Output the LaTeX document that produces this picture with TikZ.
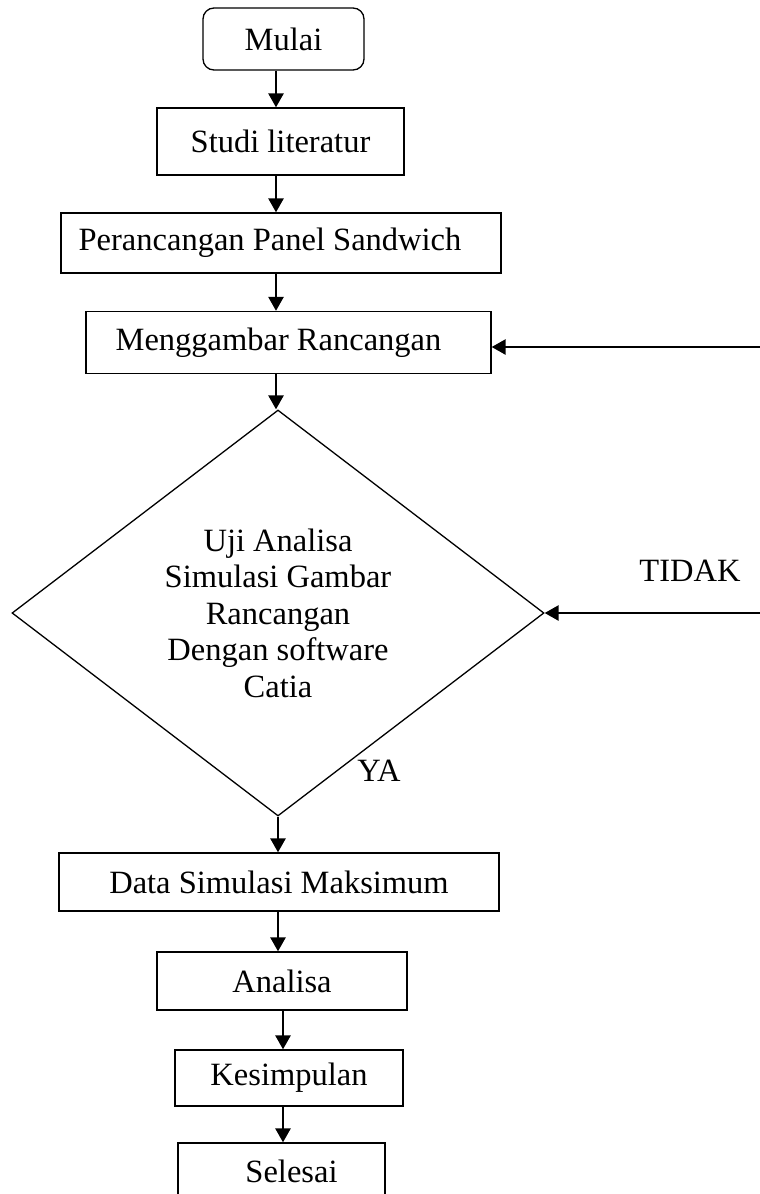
\documentclass[tikz,border=0pt]{standalone}
\usepackage{fontspec}
\setmainfont{Liberation Serif}
\usetikzlibrary{shapes.geometric,arrows.meta}
\begin{document}
\begin{tikzpicture}[x=1pt,y=-1pt,
  every node/.style={font=\fontsize{32.5}{36.5}\selectfont, inner sep=0pt},
  box/.style={draw, line width=1.3pt, rectangle},
  startbox/.style={draw, line width=1.3pt, rectangle, rounded corners=11pt},
  decision/.style={draw, line width=1.3pt, diamond, align=center},
  arr/.style={line width=2.6pt, -{Triangle[length=14pt,width=15pt]}},
  lbl/.style={anchor=center}]
  \useasboundingbox (0,0) rectangle (760,1194);

  % process boxes (centre, size)
  \node[startbox, minimum width=161pt, minimum height=62pt] (mulai) at (283.5,39) {Mulai};
  \node[box, minimum width=247pt, minimum height=67pt] (studi) at (280.5,141.5) {Studi literatur};
  \node[box, minimum width=440pt, minimum height=60pt] (rancang) at (281,243) {Perancangan Panel Sandwich\hspace*{22pt}};
  \node[box, minimum width=405pt, minimum height=62pt] (gambar) at (288.5,342.5) {\hspace*{10pt}Menggambar Rancangan\hspace*{30pt}};
  \node[decision, minimum width=532pt, minimum height=406pt] (uji) at (278,613)
    {Uji Analisa\\Simulasi Gambar\\Rancangan\\Dengan software\\Catia};
  \node[box, minimum width=440pt, minimum height=58pt] (data) at (279,882) {Data Simulasi Maksimum};
  \node[box, minimum width=250pt, minimum height=58pt] (analisa) at (282,981) {Analisa};
  \node[box, minimum width=228pt, minimum height=56pt] (simpul) at (289,1078) {Kesimpulan};
  % the last box runs past the lower edge of the page
  \node[box, minimum width=207pt, minimum height=80pt, text height=22pt, text depth=24pt]
    (selesai) at (281.5,1183) {\hspace*{20pt}Selesai};

  % branch labels
  \node[lbl] (tidak) at (690,571) {TIDAK};
  \node[lbl] (ya) at (379,771) {YA};

  % vertical guide lines for the flow arrows
  \coordinate (xa) at (276,0);
  \coordinate (xb) at (278,0);
  \coordinate (xc) at (283,0);

  \draw[arr] (mulai.south -| xa) -- (studi.north -| xa);
  \draw[arr] (studi.south -| xa) -- (rancang.north -| xa);
  \draw[arr] (rancang.south -| xa) -- (gambar.north -| xa);
  \draw[arr] (gambar.south -| xa) -- (xa |- uji.north);
  \draw[arr] (uji.south) -- (data.north -| xb);
  \draw[arr] (data.south -| xb) -- (analisa.north -| xb);
  \draw[arr] (analisa.south -| xc) -- (simpul.north -| xc);
  \draw[arr] (simpul.south -| xc) -- (selesai.north -| xc);

  % return arrows entering from the right
  \coordinate (back1) at (762,347);
  \coordinate (back2) at (762,613);
  \draw[arr] (back1) -- (gambar.east |- back1);
  \draw[arr] (back2) -- (uji.east);
\end{tikzpicture}
\end{document}
